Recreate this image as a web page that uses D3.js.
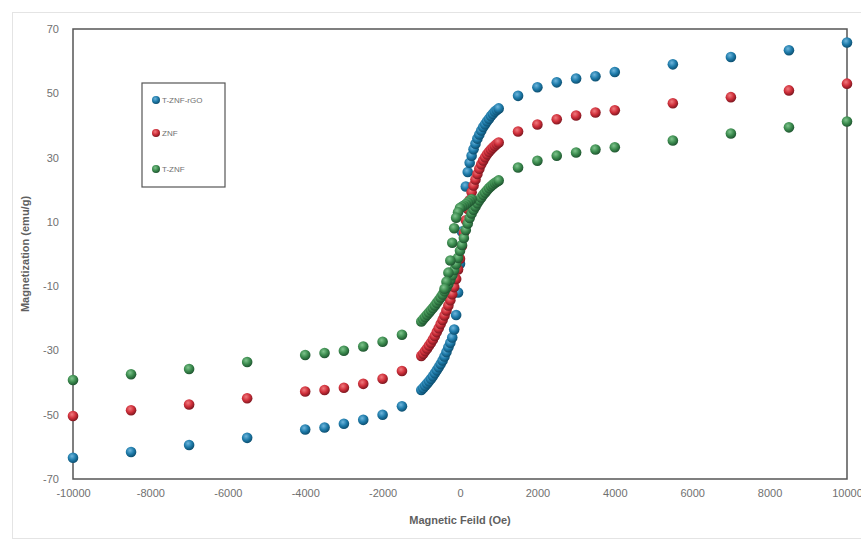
<!DOCTYPE html>
<html>
<head>
<meta charset="utf-8">
<script src="https://cdn.jsdelivr.net/npm/d3@7/dist/d3.min.js"></script>
<style>
  html, body { margin: 0; padding: 0; background: #ffffff; }
  svg { display: block; }
</style>
</head>
<body>
<svg id="chart" width="861" height="544"></svg>
<script>
// ---------------- DATA ----------------
const seriesNames = ["T-ZNF-rGO", "ZNF", "T-ZNF"];
const xTicks = [-10000, -8000, -6000, -4000, -2000, 0, 2000, 4000, 6000, 8000, 10000];
const yTicks = [70, 50, 30, 10, -10, -30, -50, -70];

// high-field points (Oe)
const outerField = [-10000, -8500, -7000, -5500, -4000, -3500, -3000, -2500, -2000, -1500,
                    1500, 2000, 2500, 3000, 3500, 4000, 5500, 7000, 8500, 10000];
// low-field points (Oe)
const centerField = [-1000, -950, -900, -850, -800, -750, -700, -650, -600, -550, -500,
                     -450, -400, -350, -300, -250, -200, -150, -100, -50, 0,
                     50, 100, 150, 200, 250, 300, 350, 400, 450, 500,
                     550, 600, 650, 700, 750, 800, 850, 900, 950, 1000];
// return branch of T-ZNF near zero field (Oe)
const loopField = [300, 250, 200, 150, 100, 50, 0, -50, -100, -150, -200, -250, -300, -350, -400];

const rgoOuter = [-63.4, -61.6, -59.4, -57.2, -54.6, -54.0, -52.8, -51.6, -50.0, -47.4,
                  49.2, 51.9, 53.4, 54.6, 55.3, 56.6, 59.0, 61.3, 63.4, 65.8];
const rgoCenter = [-42.3, -41.7, -41.0, -40.3, -39.6, -38.8, -38.0, -37.1, -36.2, -35.2, -34.2,
                   -33.1, -31.9, -30.5, -29.0, -27.6, -26.0, -23.5, -19.0, -12.0, -3.0,
                   7.0, 15.0, 21.0, 25.5, 28.4, 30.6, 32.6, 34.3, 35.9, 37.2,
                   38.4, 39.5, 40.4, 41.3, 42.1, 42.9, 43.6, 44.3, 44.8, 45.3];

const znfOuter = [-50.4, -48.6, -46.8, -44.9, -42.8, -42.3, -41.6, -40.4, -38.8, -36.4,
                  38.1, 40.3, 41.9, 43.1, 44.0, 44.7, 46.9, 48.8, 50.9, 53.0];
const znfCenter = [-31.7, -31.0, -30.2, -29.4, -28.5, -27.6, -26.6, -25.5, -24.3, -23.1, -21.8,
                   -20.5, -19.1, -17.6, -16.0, -14.4, -12.5, -10.3, -7.8, -4.8, -1.5,
                   2.5, 6.5, 10.5, 14.0, 16.8, 19.2, 21.3, 23.2, 24.9, 26.5,
                   27.9, 29.1, 30.1, 31.0, 31.8, 32.5, 33.1, 33.7, 34.2, 34.7];

const tznfOuter = [-39.2, -37.4, -35.8, -33.6, -31.4, -30.8, -30.1, -28.8, -27.3, -25.1,
                   26.9, 29.0, 30.6, 31.6, 32.5, 33.2, 35.3, 37.5, 39.4, 41.2];
const tznfCenter = [-21.0, -20.3, -19.6, -18.9, -18.2, -17.5, -16.8, -16.0, -15.2, -14.4, -13.5,
                    -12.6, -11.6, -10.5, -9.3, -8.0, -6.6, -5.0, -3.2, -1.2, 1.0,
                    2.8, 5.0, 7.5, 9.5, 11.2, 12.6, 13.8, 14.8, 15.8, 16.7,
                    17.6, 18.4, 19.1, 19.8, 20.5, 21.1, 21.6, 22.1, 22.5, 22.9];
const tznfLoop = [17.0, 16.5, 16.0, 15.5, 15.0, 14.7, 14.3, 13.0, 11.3, 8.0, 3.5, -2.0, -5.8, -8.6, -10.8];

const colors = [
  { light: "#6fb6dc", base: "#1f7cab", dark: "#0d4f70" },
  { light: "#f07a7e", base: "#cf2f3a", dark: "#7e1720" },
  { light: "#7fc48d", base: "#3c8c4f", dark: "#1f5530" }
];

// ---------------- LAYOUT ----------------
const svg = d3.select("#chart");
const plot = { left: 73, right: 847, top: 29, bottom: 479 };
const FONT = "'Liberation Sans', Arial, sans-serif";

const x = d3.scaleLinear().domain([-10000, 10000]).range([plot.left, plot.right]);
const y = d3.scaleLinear().domain([-70, 70]).range([plot.bottom, plot.top]);

// outer chart frame (faint)
svg.append("rect")
  .attr("x", 12.5).attr("y", 12.5).attr("width", 870).attr("height", 526)
  .attr("fill", "#ffffff").attr("stroke", "#e4e4e4").attr("stroke-width", 1);

// gradients
const defs = svg.append("defs");
colors.forEach((c, i) => {
  const g = defs.append("radialGradient").attr("id", "ball" + i)
    .attr("cx", "40%").attr("cy", "35%").attr("r", "65%");
  g.append("stop").attr("offset", "0%").attr("stop-color", c.light);
  g.append("stop").attr("offset", "55%").attr("stop-color", c.base);
  g.append("stop").attr("offset", "100%").attr("stop-color", c.dark);
});

// plot box
svg.append("rect")
  .attr("x", plot.left).attr("y", plot.top)
  .attr("width", plot.right - plot.left).attr("height", plot.bottom - plot.top)
  .attr("fill", "none").attr("stroke", "#555555").attr("stroke-width", 1.5);

// axes (labels only), ASCII hyphen minus like the reference
const fmt = d => String(d);
const xAxis = d3.axisBottom(x).tickValues(xTicks).tickSize(0).tickPadding(10).tickFormat(fmt);
const gx = svg.append("g").attr("transform", `translate(0,${plot.bottom})`).call(xAxis);
gx.select(".domain").remove();
gx.selectAll("text").attr("fill", "#707070").style("font-family", FONT).style("font-size", "11px");

const yAxis = d3.axisLeft(y).tickValues(yTicks).tickSize(0).tickPadding(14).tickFormat(fmt);
const gy = svg.append("g").attr("transform", `translate(${plot.left},0)`).call(yAxis);
gy.select(".domain").remove();
gy.selectAll("text").attr("fill", "#707070").style("font-family", FONT).style("font-size", "11px");

// axis titles
svg.append("text")
  .attr("x", (plot.left + plot.right) / 2).attr("y", 524)
  .attr("text-anchor", "middle")
  .attr("fill", "#5f5f5f").style("font-family", FONT)
  .style("font-size", "11px").style("font-weight", "bold")
  .text("Magnetic Feild (Oe)");

svg.append("text")
  .attr("transform", `translate(29,${(plot.top + plot.bottom) / 2}) rotate(-90)`)
  .attr("text-anchor", "middle")
  .attr("fill", "#5f5f5f").style("font-family", FONT)
  .style("font-size", "11px").style("font-weight", "bold")
  .text("Magnetization (emu/g)");

// ---------------- MARKS ----------------
function pairs(fields, vals) { return fields.map((f, i) => [f, vals[i]]); }
const seriesData = [
  pairs(outerField, rgoOuter).concat(pairs(centerField, rgoCenter)),
  pairs(outerField, znfOuter).concat(pairs(centerField, znfCenter)),
  pairs(outerField, tznfOuter).concat(pairs(centerField, tznfCenter)).concat(pairs(loopField, tznfLoop))
];

const R = 5.3;
seriesData.forEach((data, i) => {
  svg.append("g").attr("class", "series" + i)
    .selectAll("circle").data(data).enter().append("circle")
    .attr("cx", d => x(d[0])).attr("cy", d => y(d[1])).attr("r", R)
    .attr("fill", `url(#ball${i})`);
});

// ---------------- LEGEND ----------------
const legend = svg.append("g");
legend.append("rect")
  .attr("x", 142).attr("y", 83).attr("width", 83).attr("height", 104)
  .attr("fill", "#ffffff").attr("stroke", "#555555").attr("stroke-width", 1.2);
const legY = [100, 133, 169];
seriesNames.forEach((n, i) => {
  legend.append("circle").attr("cx", 156).attr("cy", legY[i]).attr("r", 4)
    .attr("fill", `url(#ball${i})`);
  legend.append("text").attr("x", 162).attr("y", legY[i] + 3)
    .attr("fill", "#707070").style("font-family", FONT)
    .style("font-size", "8px").text(n);
});
</script>
</body>
</html>
